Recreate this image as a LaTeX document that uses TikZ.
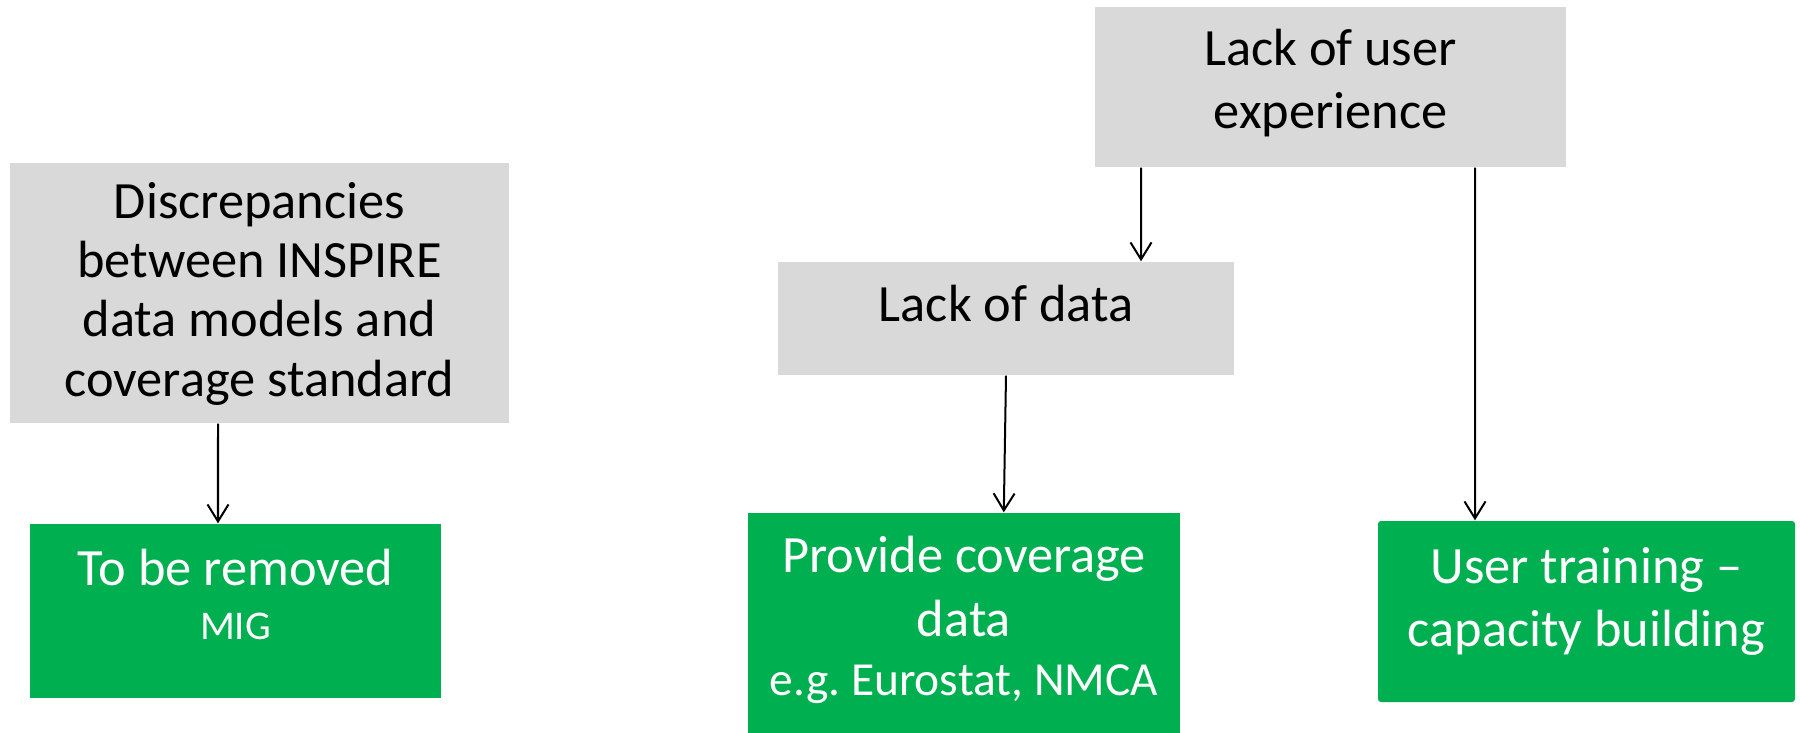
\documentclass[tikz,border=0pt]{standalone}
\usepackage{fontspec}
\setmainfont{Carlito}
\frenchspacing
\usetikzlibrary{arrows.meta}
\definecolor{causegrey}{HTML}{D9D9D9}
\definecolor{actiongreen}{HTML}{00B050}
\begin{document}
\begin{tikzpicture}[
  cause/.style={rectangle, fill=causegrey, inner sep=0pt, align=flush center, font=\fontsize{14.9}{18}\selectfont},
  action/.style={rectangle, fill=actiongreen, text=white, inner sep=0pt, align=flush center, font=\fontsize{14.9}{18}\selectfont},
  arr/.style={-{Straight Barb[length=0.17cm, width=0.21cm]}, line width=0.57pt}
]
  \clip (0, 0) rectangle (18, -7.32);
  % Nodes
  \node (disc) [cause, text width=4.99cm, text height=0.55cm, text depth=2.05cm, font=\fontsize{14.9}{16.9}\selectfont] at (2.595, -2.93) {Discrepancies\\between INSPIRE\\data models and\\coverage standard};
  \node (removed) [action, text width=4.11cm, text height=0.61cm, text depth=1.13cm, font=\fontsize{14.9}{15.4}\selectfont] at (2.355, -6.11) {To be removed\\{\fontsize{11.6}{13}\selectfont MIG}};
  \node (userexp) [cause, text width=4.71cm, text height=0.587cm, text depth=1.013cm] at (13.305, -0.87) {Lack of user\\experience};
  \node (lackdata) [cause, text width=4.56cm, text height=0.597cm, text depth=0.533cm] at (10.06, -3.185) {Lack of data};
  \node (provide) [action, text width=4.32cm, text height=0.597cm, text depth=2.273cm, font=\fontsize{14.9}{18.2}\selectfont] at (9.64, -6.565) {Provide coverage\\data\\[-1.6pt]{\fontsize{13.5}{16}\selectfont e.g. Eurostat, NMCA}};
  \node (training) [action, rounded corners=0.03cm, text width=4.17cm, text height=0.623cm, text depth=1.187cm] at (15.865, -6.115) {User training --\\capacity building};
  % Arrows
  \draw[arr] ([xshift=-0.415cm]disc.south) -- ([xshift=-0.175cm]removed.north);
  \draw[arr] ([xshift=-1.895cm]userexp.south) -- ([xshift=1.35cm]lackdata.north);
  \draw[arr] (lackdata.south) -- ([xshift=0.398cm]provide.north);
  \draw[arr] ([xshift=1.445cm]userexp.south) -- ([xshift=-1.115cm]training.north);
\end{tikzpicture}
\end{document}
